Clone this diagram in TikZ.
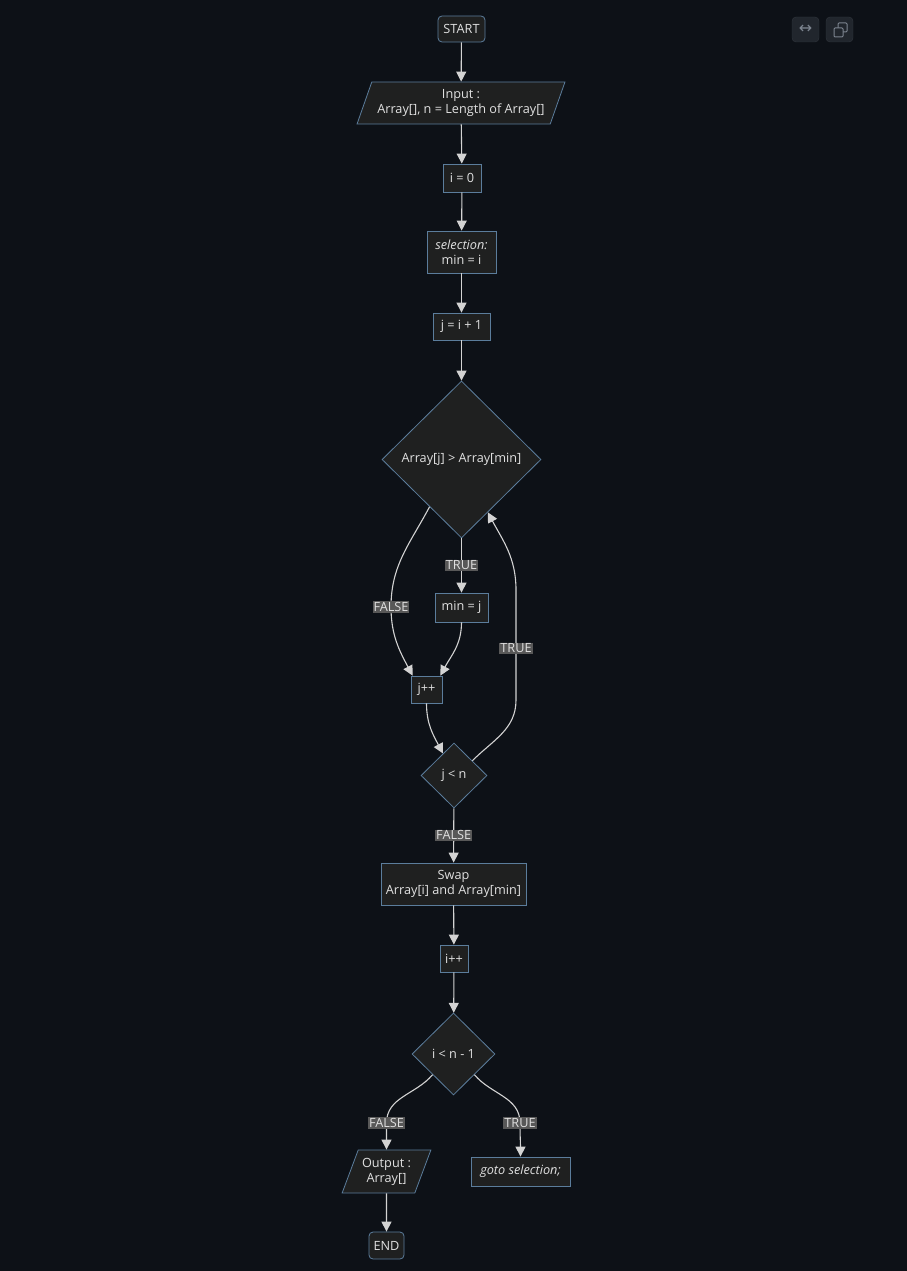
\documentclass[tikz,border=0pt]{standalone}
\usepackage{fontspec}
\setmainfont{Open Sans}
\newfontfamily\symfont{DejaVu Sans}
\usepackage{tikz}
\usetikzlibrary{calc}
\usetikzlibrary{shapes.geometric}
\usetikzlibrary{arrows.meta}

\definecolor{bgcol}{HTML}{0D1117}
\definecolor{nodefill}{HTML}{1F2020}
\definecolor{nodeline}{HTML}{5B7D9C}
\definecolor{nodetext}{HTML}{E0E0E0}
\definecolor{edgecol}{HTML}{D3D3D3}
\definecolor{lblfill}{HTML}{585858}
\definecolor{btnfill}{HTML}{21262D}
\definecolor{btnline}{HTML}{30363D}
\definecolor{btnicon}{HTML}{7D8590}

\begin{document}
\begin{tikzpicture}[x=1pt, y=-1pt, font=\fontsize{12.7}{15}\selectfont,
    base/.style={draw=nodeline, fill=nodefill, text=nodetext, line width=0.8pt, align=center},
    proc/.style={base, rectangle, minimum height=27, inner sep=0},
    term/.style={proc, rounded corners=4},
    io/.style={base, trapezium, trapezium left angle=63, trapezium right angle=117,
      trapezium stretches=true, inner sep=0},
    cond/.style={base, diamond, aspect=1, inner sep=0},
    lbl/.style={fill=lblfill, text=nodetext, inner xsep=1pt, inner ysep=1pt},
    flow/.style={draw=edgecol, line width=1.1pt, -{Triangle[length=10pt, width=10pt]}}]

    % background
    \fill[bgcol] (0, 0) rectangle (907, 1271);
    \useasboundingbox (0, 0) rectangle (907, 1271);

    % buttons top right
    \foreach \bx in {792, 826}
    \draw[fill=btnfill, draw=btnline, rounded corners=4] (\bx, 17) rectangle +(27, 25);
    \node[text=btnicon, font=\symfont\fontsize{16}{16}\selectfont] at (805.5, 29.5) {↔};
    \draw[btnicon, line width=1pt, rounded corners=1] (838, 23) rectangle (847, 32);
    \draw[btnicon, fill=btnfill, line width=1pt, rounded corners=1] (834, 28) rectangle (843, 37);

    % nodes
    \node[term, minimum width=47, minimum height=26] (start) at (461.5, 29) {START};
    \node[io, minimum width=208, minimum height=42] (input) at (461, 103) {Input :\\Array[], n = Length of Array[]};
    \node[proc, minimum width=38, minimum height=28] (izero) at (462, 178) {i = 0};
    \node[proc, minimum width=69, minimum height=42] (sel) at (461.5, 252) {\textit{selection:}\\min = i};
    \node[proc, minimum width=57] (jinit) at (461.5, 326.5) {j = i + 1};
    \node[cond, minimum width=159, minimum height=157] (cmp) at (461.5, 459.5) {Array[j] > Array[min]};
    \node[proc, minimum width=53, minimum height=29] (minj) at (461.5, 607.5) {min = j};
    \node[proc, minimum width=31] (jinc) at (426.5, 689.5) {j++};
    \node[cond, minimum width=66, minimum height=65] (jlt) at (454, 775.5) {j < n};
    \node[proc, minimum width=145, minimum height=42] (swap) at (453.5, 884) {Swap\\Array[i] and Array[min]};
    \node[proc, minimum width=28] (iinc) at (454, 958.5) {i++};
    \node[cond, minimum width=83, minimum height=82] (ilt) at (453.5, 1054) {i < n - 1};
    \node[io, minimum width=89, minimum height=43] (output) at (386.5, 1171.5) {Output :\\Array[]};
    \node[proc, minimum width=99, minimum height=29] (goto) at (520.5, 1171.5) {\textit{goto selection;}};
    \node[term, minimum width=35] (end) at (386.5, 1245.5) {END};

    % waypoints of the curved connectors
    \coordinate (cmpout) at ($(cmp.west)!0.6!(cmp.south)$);
    \coordinate (cmpin) at ($(cmp.south)!0.33!(cmp.east)$);
    \coordinate (jltin) at ($(jlt.north)!0.33!(jlt.west)$);
    \coordinate (jltout) at ($(jlt.north)!0.55!(jlt.east)$);
    \coordinate (falsept) at (391, 607);
    \coordinate (looplow) at (516, 700);
    \coordinate (loophigh) at (516, 590);
    \coordinate (ifalse) at (386.5, 1123);
    \coordinate (itrue) at (520, 1123);

    % straight connectors
    \draw[flow] (start) -- (input);
    \draw[flow] (input) -- (izero);
    \draw[flow] (izero) -- (sel);
    \draw[flow] (sel) -- (jinit);
    \draw[flow] (jinit) -- (cmp);
    \draw[flow] (cmp) -- node[lbl] {TRUE} (minj);
    \draw[flow] (jlt) -- node[lbl] {FALSE} (swap);
    \draw[flow] (swap) -- (iinc);
    \draw[flow] (iinc) -- (ilt);
    \draw[flow] (output) -- (end);

    % curved connectors
    \draw[flow] (cmpout) to[out=-118, in=90] (falsept) node[lbl] {FALSE}
      to[out=-90, in=118] ([xshift=2]jinc.north west);
    \draw[flow] (minj.south) to[out=-90, in=62] ([xshift=-2]jinc.north east);
    \draw[flow] (jinc.south) to[out=-90, in=118] (jltin);
    \draw[flow] (jltout) to[out=45, in=-90] (looplow) -- node[lbl, pos=0.47] {TRUE} (loophigh)
      to[out=90, in=-62] (cmpin);
    \draw[flow] (ilt.south west) to[out=-130, in=90] (ifalse) node[lbl] {FALSE}
      to[out=-90, in=90] (output.north);
    \draw[flow] (ilt.south east) to[out=-50, in=90] (itrue) node[lbl] {TRUE}
      to[out=-90, in=90] (goto.north);

\end{tikzpicture}
\end{document}
